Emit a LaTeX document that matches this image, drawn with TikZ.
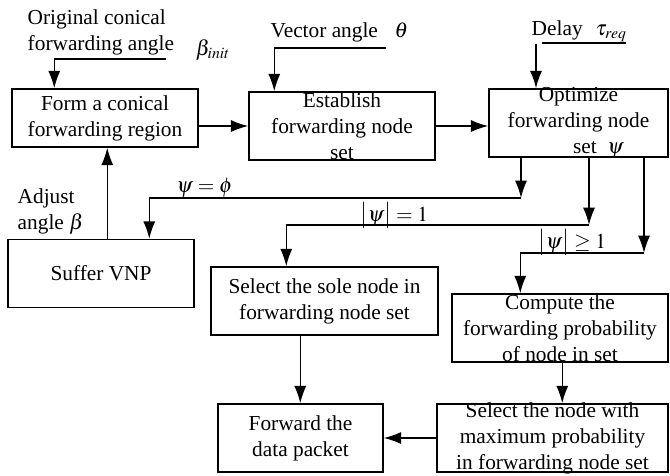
\documentclass[tikz,border=0pt]{standalone}
\usepackage{mathptmx}
\usepackage{fontspec}
\setmainfont{Liberation Serif}
\usetikzlibrary{arrows.meta}
\begin{document}
\begin{tikzpicture}[x=0.75pt,y=-0.75pt,>={Latex[length=13pt,width=9pt]},line width=1.1pt,
	every node/.style={font=\fontsize{16}{19.5}\selectfont,inner sep=0pt},
	blk/.style={draw,rectangle,minimum height=51pt},
	txt/.style={align=center}]
\useasboundingbox (0,0) rectangle (670,475);
% boxes
\node[blk,minimum width=139.5pt,minimum height=43.5pt] (form) at (105,118) {};
\node[blk,minimum width=139.5pt] (estab) at (342,126) {};
\node[blk,minimum width=134.25pt] (optim) at (578.5,123) {};
\node[blk,minimum width=139.5pt] (suffer) at (101,273.5) {};
\node[blk,minimum width=170.25pt] (sole) at (324.5,301) {};
\node[blk,minimum width=123.75pt] (fwd) at (300.5,438) {};
\node[blk,minimum width=162pt] (comp) at (560,328) {};
\node[blk,minimum width=173.25pt] (selmax) at (552.5,438) {};
\node[txt] (formt) at (form) {Form a conical\\forwarding region};
\node[txt] (estabt) at (estab) {Establish\\forwarding node\\set};
\node[txt] (optimt) at (optim) {Optimize\\forwarding node\\\hspace*{30pt}set~~$\psi$};
\node[txt] (suffert) at (suffer) {Suffer VNP};
\node[txt] (solet) at (sole) {Select the sole node in\\forwarding node set};
\node[txt] (fwdt) at (fwd) {Forward the\\data packet};
\node[txt] (compt) at (comp) {Compute the\\forwarding probability\\of node in set};
\node[txt] (selmaxt) at (selmax) {Select the node with\\maximum probability\\in forwarding node set};
% inputs
\node[anchor=west,align=left] (orig) at (27,32.5) {Original conical\\forwarding angle};
\node (binit) at (213,50) {$\beta_{init}$};
\coordinate (bstart) at (166,59);
\draw[->] (bstart) -| ([xshift=32.25pt]form.north west);
\node[anchor=base west] (vec) at (270,37) {Vector angle};
\node[anchor=base west] (theta) at (394,37) {$\theta$};
\coordinate (tstart) at (386,48);
\draw[->] (tstart) -| ([xshift=19.5pt]estab.north west);
\node[anchor=base west] (delay) at (531,35) {Delay};
\node[anchor=base west] (tau) at (595,35) {$\tau_{req}$};
\coordinate (ul) at (542,43);
\draw (ul) -- ++(63pt,0);
\coordinate (dstart) at (536,44);
\draw[->] (dstart) -- (dstart |- optim.north);
\draw[->] (form.east |- estab.west) -- (estab.west);
\draw[->] (estab.east) -- (estab.east -| optim.west);
% branches
\coordinate (c1) at (521,198);
\coordinate (c2) at (589,225);
\coordinate (c3) at (644,253);
\draw[->] (c1 |- optim.south) -- (c1);
\draw[->] (c1) -| ([xshift=106.5pt]suffer.north west);
\node[anchor=base west] (empty) at (176,192) {$\psi = \phi$};
\draw[->] (c2 |- optim.south) -- (c2);
\draw[->] (c2) -| ([xshift=57pt]sole.north west);
\node[anchor=base west] (one) at (360,221) {$\bigl|\psi\bigr| = 1$};
\draw[->] (c3 |- optim.south) -- (c3);
\draw[->] (c3) -| ([xshift=51.75pt]comp.north west);
\node[anchor=base west] (many) at (538,248) {$\bigl|\psi\bigr| \geq 1$};
\node[anchor=west,align=left] (adj) at (17,211) {Adjust\\angle $\beta$};
\draw[->] ([xshift=75pt]suffer.north west) coordinate (up) -- (up |- form.south);
\draw[->] ([xshift=67.5pt]sole.south west) coordinate (d1) -- (d1 |- fwd.north);
\draw[->] ([xshift=83.25pt]comp.south west) coordinate (d2) -- (d2 |- selmax.north);
\draw[->] (selmax.west) -- (fwd.east);
\end{tikzpicture}
\end{document}
